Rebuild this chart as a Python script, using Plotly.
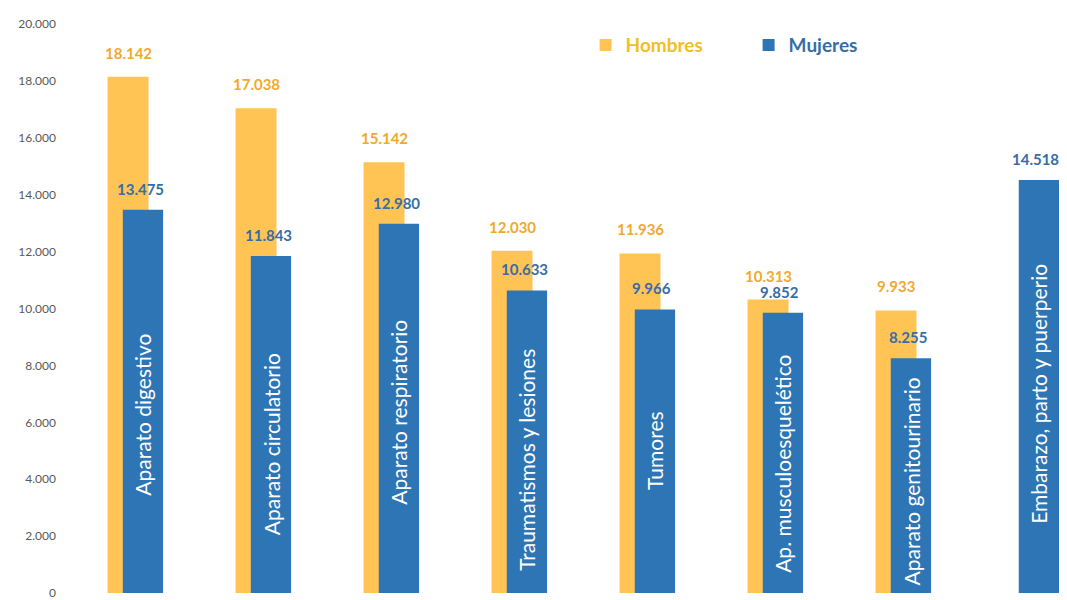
import plotly.graph_objects as go

categorias = ["Aparato digestivo", "Aparato circulatorio", "Aparato respiratorio",
              "Traumatismos y lesiones", "Tumores", "Ap. musculoesquelético",
              "Aparato genitourinario", "Embarazo, parto y puerperio"]
hombres = [18142, 17038, 15142, 12030, 11936, 10313, 9933, None]
mujeres = [13475, 11843, 12980, 10633, 9966, 9852, 8255, 14518]
ticks_y = [0, 2000, 4000, 6000, 8000, 10000, 12000, 14000, 16000, 18000, 20000]

# layout-only: vertical centre of each category label inside its bar (data units)
label_y = [6270, 5230, 6340, 4680, 5030, 4540, 3920, 7000]

YEL = "#FFC454"
BLU = "#2E75B6"
YEL_T = "#EFA92F"
YEL_L = "#F2BF1E"
BLU_T = "#376DA6"
FONT = "Lato"

def fmt(v):
    return f"{v:,}".replace(",", ".")

x = list(range(len(categorias)))
fig = go.Figure()
fig.add_trace(go.Bar(
    x=x, y=hombres, name=f"<span style='color:{YEL_L}'><b>Hombres</b></span>",
    marker=dict(color=YEL, line=dict(width=0)),
    offset=-0.277, width=0.32, hoverinfo="skip"))
fig.add_trace(go.Bar(
    x=x, y=mujeres, name=f"<span style='color:{BLU_T}'><b>Mujeres</b></span>",
    marker=dict(color=BLU, line=dict(width=0)),
    offset=-0.158, width=0.315, hoverinfo="skip"))

ann = []
for i, (h, m) in enumerate(zip(hombres, mujeres)):
    if h is not None:
        ann.append(dict(x=i - 0.117, y=h, text=f"<b>{fmt(h)}</b>", showarrow=False,
                        yshift=24, font=dict(family=FONT, size=15, color=YEL_T)))
    ann.append(dict(x=i, y=m, text=f"<b>{fmt(m)}</b>", showarrow=False,
                    yshift=21, xshift=-3, font=dict(family=FONT, size=15, color=BLU_T)))
    ann.append(dict(x=i, y=label_y[i], text=categorias[i], showarrow=False, textangle=-90,
                    xanchor="center", yanchor="middle",
                    font=dict(family=FONT, size=21, color="white")))

# the page body has an 8px margin, so margins are offset by 8px
fig.update_layout(
    width=1067, height=600,
    margin=dict(l=54, r=8, t=9, b=14),
    paper_bgcolor="white", plot_bgcolor="white",
    barmode="overlay", separators=",.",
    showlegend=True,
    legend=dict(orientation="h", x=0.521, xanchor="left", y=0.963, yanchor="middle",
                font=dict(family=FONT, size=19, color=BLU_T), itemwidth=30,
                entrywidth=118, bgcolor="rgba(0,0,0,0)", traceorder="normal"),
    annotations=ann,
    xaxis=dict(range=[-0.633, 7.219], showticklabels=False, showgrid=False,
               zeroline=False, showline=False, ticks=""),
    yaxis=dict(range=[0, 20000], tickvals=ticks_y, tickformat=",d", showgrid=False,
               zeroline=False, showline=False, ticks="", ticklabelstandoff=5,
               tickfont=dict(family=FONT, size=12, color="#595959")),
)
fig.write_html("out.html")
